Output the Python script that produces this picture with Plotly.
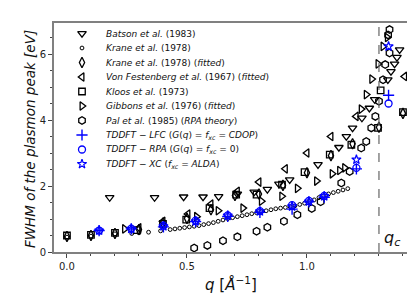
import plotly.graph_objects as go

# ---------------- data ----------------
batson_q = [0.178, 0.365, 0.486, 0.567, 0.632, 0.71, 0.78, 0.835, 0.883, 0.928, 1.046, 1.133,
            1.164, 1.19, 1.229, 1.26, 1.282, 1.337, 1.35, 1.365, 1.375, 1.386]
batson_y = [1.65, 1.65, 1.67, 1.67, 1.68, 1.76, 1.82, 1.90, 2.06, 2.19, 2.65, 3.17,
            3.50, 3.76, 4.06, 4.36, 4.62, 5.22, 5.47, 5.70, 5.90, 6.13]

krane_q = [0.0, 0.1, 0.2, 0.27, 0.30, 0.34, 0.39, 0.43, 0.45, 0.47, 0.49, 0.51, 0.53, 0.55, 0.57,
           0.59, 0.61, 0.63, 0.65, 0.67, 0.69, 0.71, 0.73, 0.75, 0.77, 0.79, 0.81, 0.83,
           0.85, 0.87, 0.89, 0.91, 0.93, 0.95, 0.97, 0.99, 1.01, 1.03, 1.05, 1.07, 1.09,
           1.11, 1.13, 1.15, 1.17]
krane_y = [0.45, 0.48, 0.55, 0.56, 0.58, 0.60, 0.64, 0.68, 0.70, 0.72, 0.74, 0.76, 0.78, 0.80, 0.83,
           0.86, 0.89, 0.93, 0.97, 1.01, 1.04, 1.07, 1.10, 1.13, 1.16, 1.19, 1.22, 1.25,
           1.28, 1.31, 1.33, 1.35, 1.37, 1.40, 1.44, 1.48, 1.53, 1.58, 1.65, 1.71, 1.76,
           1.80, 1.84, 1.88, 1.92]

kranefit_q = [0.0, 0.1, 0.2, 0.3, 0.4, 0.5, 0.6, 0.7, 0.8, 0.9, 1.0, 1.1, 1.19, 1.3, 1.4]
kranefit_y = [0.47, 0.50, 0.56, 0.68, 0.88, 1.02, 1.28, 1.71, 1.76, 2.02, 2.40, 2.92, 3.28, 3.78, 4.20]

vonf_q = [0.3, 0.4, 0.504, 0.6, 0.71, 0.8, 0.91, 1.0, 1.1, 1.205, 1.407]
vonf_y = [0.73, 0.93, 1.15, 1.45, 1.84, 2.12, 2.52, 3.00, 3.50, 4.11, 5.32]

kloos_q = [0.0, 0.1, 0.2, 0.29, 0.4, 0.497, 0.594, 0.705, 0.79, 0.896, 0.99, 1.095, 1.185,
           1.296, 1.307, 1.40]
kloos_y = [0.50, 0.52, 0.58, 0.66, 0.85, 0.98, 1.33, 1.74, 1.74, 2.04, 2.42, 2.95, 3.25,
           3.76, 4.90, 4.24]

gibbons_q = [0.24, 0.54, 0.63, 0.733, 0.81, 0.895, 0.96, 1.04, 1.105, 1.136, 1.157, 1.226,
             1.247, 1.27, 1.296, 1.317, 1.335]
gibbons_y = [0.70, 1.07, 1.25, 1.33, 1.54, 1.69, 1.93, 2.15, 2.37, 2.47, 2.55, 4.33,
             4.77, 5.24, 5.70, 6.23, 6.50]

pal_q = [0.53, 0.585, 0.65, 0.71, 0.79, 0.835, 0.904, 0.96, 1.02, 1.057, 1.143, 1.178,
         1.226, 1.247, 1.268, 1.285, 1.30, 1.317, 1.326, 1.344, 1.338, 1.344]
pal_y = [0.12, 0.20, 0.34, 0.46, 0.63, 0.75, 0.93, 1.13, 1.32, 1.52, 2.09, 2.44,
         3.15, 3.35, 3.76, 4.11, 4.57, 5.22, 5.68, 6.03, 6.58, 6.74]

tddft_q = [0.134, 0.268, 0.402, 0.536, 0.67, 0.804, 0.938, 1.008, 1.072, 1.206, 1.34]
lfc_y = [0.65, 0.70, 0.76, 0.92, 1.08, 1.20, 1.30, 1.52, 1.66, 2.52, 4.75]
rpa_y = [0.65, 0.71, 0.80, 0.95, 1.11, 1.24, 1.42, 1.55, 1.70, 2.55, 4.50]
xc_y = [0.65, 0.70, 0.78, 0.93, 1.10, 1.23, 1.38, 1.53, 1.69, 2.80, 6.23]

q_c = 1.30

legend_labels = [
    "<i>Batson et al.</i> (1983)",
    "<i>Krane et al.</i> (1978)",
    "<i>Krane et al.</i> (1978) (<i>fitted</i>)",
    "<i>Von Festenberg et al.</i> (1967) (<i>fitted</i>)",
    "<i>Kloos et al.</i> (1973)",
    "<i>Gibbons et al.</i> (1976) (<i>fitted</i>)",
    "<i>Pal et al.</i> (1985) (<i>RPA theory</i>)",
    "<i>TDDFT − LFC</i> (<i>G</i>(<i>q</i>) = <i>f<sub>xc</sub></i> = <i>CDOP</i>)",
    "<i>TDDFT − RPA</i> (<i>G</i>(<i>q</i>) = <i>f<sub>xc</sub></i> = 0)",
    "<i>TDDFT − XC</i> (<i>f<sub>xc</sub></i> = <i>ALDA</i>)",
]

# ---------------- styles ----------------
BLK = "black"
BLU = "#0000ff"
styles = [
    dict(symbol="triangle-down-open", size=7.5, color=BLK, line=dict(width=1.3, color=BLK)),
    dict(symbol="circle-open", size=3.8, color=BLK, line=dict(width=1.0, color=BLK)),
    dict(symbol="diamond-tall-open", size=7.5, color=BLK, line=dict(width=1.3, color=BLK)),
    dict(symbol="triangle-left-open", size=7.5, color=BLK, line=dict(width=1.3, color=BLK)),
    dict(symbol="square-open", size=6.5, color=BLK, line=dict(width=1.3, color=BLK)),
    dict(symbol="triangle-right-open", size=7.5, color=BLK, line=dict(width=1.3, color=BLK)),
    dict(symbol="hexagon-open", size=7.5, color=BLK, line=dict(width=1.3, color=BLK)),
    dict(symbol="cross-thin-open", size=8, color=BLU, line=dict(width=1.4, color=BLU)),
    dict(symbol="circle-open", size=7, color=BLU, line=dict(width=1.3, color=BLU)),
    dict(symbol="star-open", size=7, color=BLU, line=dict(width=1.2, color=BLU)),
]

series = [
    (batson_q, batson_y), (krane_q, krane_y), (kranefit_q, kranefit_y), (vonf_q, vonf_y),
    (kloos_q, kloos_y), (gibbons_q, gibbons_y), (pal_q, pal_y),
    (tddft_q, lfc_y), (tddft_q, rpa_y), (tddft_q, xc_y),
]

fig = go.Figure()
for (qs, ys), st in zip(series, styles):
    fig.add_trace(go.Scatter(x=qs, y=ys, mode="markers", marker=st, showlegend=False,
                             xaxis="x", yaxis="y"))

# manual legend (markers on an overlay axis in [0,1] units, text as annotations)
W, H = 415, 300
L, R, T, B = 46, 15, 15, 56
pw, ph = W - L - R, H - T - B
leg_x_marker = (74 - L) / pw
leg_x_text = (96 - L) / pw
leg_py = [25.5 + 14.5 * i for i in range(len(legend_labels))]
for i, (lab, st) in enumerate(zip(legend_labels, styles)):
    yy = (H - B - leg_py[i]) / ph
    fig.add_trace(go.Scatter(x=[leg_x_marker], y=[yy], mode="markers", marker=st,
                             showlegend=False, xaxis="x2", yaxis="y2", hoverinfo="skip"))
    fig.add_annotation(x=leg_x_text, y=yy, xref="paper", yref="paper", text=lab,
                       showarrow=False, xanchor="left", yanchor="middle",
                       font=dict(family="DejaVu Sans", size=9, color="#111"))

# q_c dashed line and label
fig.add_shape(type="line", x0=q_c, x1=q_c, y0=0, y1=1, xref="x", yref="paper",
              line=dict(color="#666", width=1.2, dash="dash"))
fig.add_annotation(x=q_c + 0.012, y=0.42, xref="x", yref="y", text="<i>q<sub>c</sub></i>",
                   showarrow=False, xanchor="left", yanchor="middle",
                   font=dict(family="DejaVu Sans", size=16, color="#111"))

# axis titles
fig.add_annotation(x=0.5, y=(H - B - 276) / ph, xref="paper", yref="paper",
                   text="<i>q</i> [<i>Å</i><sup>−1</sup>]", showarrow=False,
                   xanchor="center", yanchor="middle",
                   font=dict(family="DejaVu Sans", size=15, color="#111"))
fig.add_annotation(x=(22 - L) / pw, y=(H - B - 131) / ph, xref="paper", yref="paper",
                   text="<i>FWHM of the plasmon peak [eV]</i>", showarrow=False,
                   textangle=-90, xanchor="center", yanchor="middle",
                   font=dict(family="DejaVu Sans", size=13.5, color="#111"))

axis_common = dict(showline=True, linecolor="#808080", linewidth=1.8, mirror=True,
                   showgrid=False, zeroline=False, ticks="outside", ticklen=4,
                   tickwidth=1, tickcolor="#444",
                   tickfont=dict(family="DejaVu Sans", size=10, color="#222"))

fig.update_layout(
    width=W, height=H,
    margin=dict(l=L, r=R, t=T, b=B),
    plot_bgcolor="white", paper_bgcolor="white",
    xaxis=dict(range=[-0.054, 1.421], dtick=0.5, tick0=0, tickformat=".1f",
               minor=dict(dtick=0.1, ticklen=2.5, ticks="outside", tickcolor="#444"),
               **axis_common),
    yaxis=dict(range=[0, 6.94], dtick=2, tick0=0,
               minor=dict(dtick=0.5, ticklen=2.5, ticks="outside", tickcolor="#444"),
               **axis_common),
    xaxis2=dict(range=[0, 1], overlaying="x", visible=False, fixedrange=True),
    yaxis2=dict(range=[0, 1], overlaying="y", visible=False, fixedrange=True),
    showlegend=False,
)

fig.write_html("out.html")
